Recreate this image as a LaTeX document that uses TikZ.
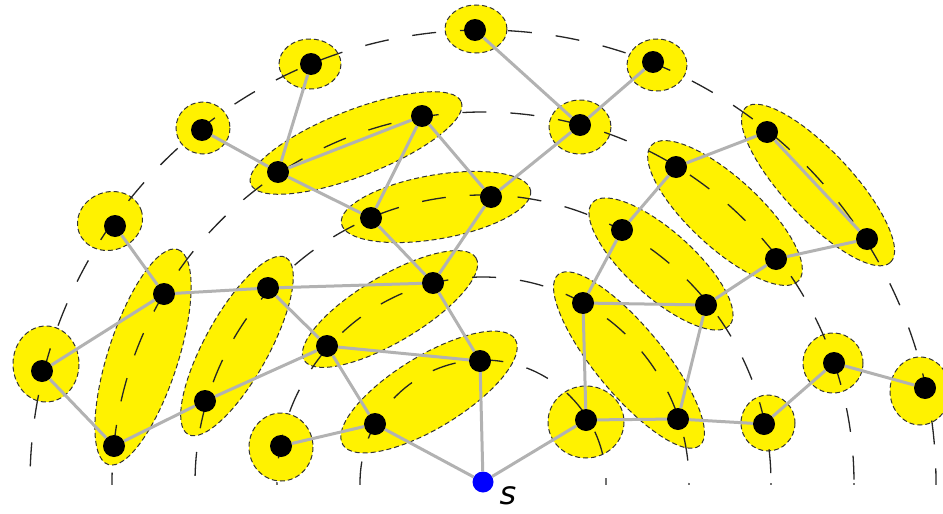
\documentclass[tikz,border=0pt]{standalone}
\usepackage{fontspec}
\newfontfamily\labelfont{DejaVu Sans}
\begin{document}
\begin{tikzpicture}[x=1pt,y=-1pt,
  blob/.style={fill=yellow, draw=black!80, line width=1pt, dash pattern=on 5pt off 3pt},
  ring/.style={draw=black!85, line width=1.3pt, dash pattern=on 24pt off 24pt},
  edge/.style={draw=black!30, line width=3pt},
  vtx/.style={circle, fill=black, inner sep=0pt, minimum size=22pt},
  src/.style={circle, fill=blue, inner sep=0pt, minimum size=21pt}]
\useasboundingbox (0,0) rectangle (943,514);
\newcommand\myblob[5]{\path[blob, rotate around={#3:(#1,#2)}] (#1,#2) ellipse [x radius=#4, y radius=#5];}
% two-node blobs
\myblob{356}{143}{21.3}{113}{33}
\myblob{436}{207}{9.9}{96}{32}
\myblob{143}{357}{72.1}{113}{35}
\myblob{237}{346}{61.1}{101}{32}
\myblob{390}{309}{30.7}{100}{33}
\myblob{429}{392}{31.4}{101}{36}
\myblob{725}{213}{-42.6}{100}{35}
\myblob{818}{185}{-46.9}{106}{34}
\myblob{661}{264}{-41.8}{92}{33}
\myblob{629}{360}{-50.4}{111}{34}
% single blobs
\myblob{476}{29}{0}{31}{24}
\myblob{310}{64}{0}{31}{25}
\myblob{657}{65}{0}{30}{26}
\myblob{203}{128}{0}{27}{26}
\myblob{580}{127}{0}{31}{27}
\myblob{110}{221}{20}{33}{29}
\myblob{46}{364}{0}{33}{38}
\myblob{281}{447}{0}{32}{34}
\myblob{586}{422}{0}{38}{36}
\myblob{768}{423}{0}{27}{28}
\myblob{833}{363}{0}{30}{30}
\myblob{920}{391}{0}{30}{34}
% rings
\begin{scope}
\clip (0,0) rectangle (943,484);
\foreach \r in {123,206,288,371,453}
  \draw[ring] (483,483) circle [radius=\r];
\end{scope}
% nodes
\node[src] (s) at (483,482) {};
\node[font=\labelfont\itshape\fontsize{32}{32}\selectfont, inner sep=0pt] (slab) at (508,496) {s};
\node[vtx] (a1) at (475,30) {};
\node[vtx] (a2) at (311,64) {};
\node[vtx] (a3) at (653,62) {};
\node[vtx] (a4) at (202,130) {};
\node[vtx] (a5) at (422,116) {};
\node[vtx] (a6) at (580,125) {};
\node[vtx] (a7) at (278,172) {};
\node[vtx] (a8) at (371,218) {};
\node[vtx] (a9) at (491,197) {};
\node[vtx] (a10) at (676,167) {};
\node[vtx] (a11) at (767,132) {};
\node[vtx] (a12) at (115,226) {};
\node[vtx] (a13) at (622,230) {};
\node[vtx] (a14) at (867,239) {};
\node[vtx] (a15) at (776,259) {};
\node[vtx] (a16) at (164,294) {};
\node[vtx] (a17) at (268,288) {};
\node[vtx] (a18) at (433,283) {};
\node[vtx] (a19) at (583,303) {};
\node[vtx] (a20) at (706,305) {};
\node[vtx] (a21) at (327,346) {};
\node[vtx] (a22) at (42,371) {};
\node[vtx] (a23) at (480,361) {};
\node[vtx] (a24) at (834,363) {};
\node[vtx] (a25) at (205,401) {};
\node[vtx] (a26) at (375,424) {};
\node[vtx] (a27) at (925,388) {};
\node[vtx] (a28) at (114,446) {};
\node[vtx] (a29) at (281,446) {};
\node[vtx] (a30) at (586,420) {};
\node[vtx] (a31) at (678,419) {};
\node[vtx] (a32) at (764,424) {};
% edges
\foreach \u/\v in {a1/a6, a3/a6, a6/a9, a2/a7, a4/a7, a7/a5, a7/a8, a5/a8, a5/a9,
  a8/a18, a9/a18, a12/a16, a16/a17, a17/a18, a17/a21, a16/a22, a22/a28, a28/a25,
  a25/a21, a21/a23, a21/a26, a18/a23, a29/a26, a26/s, a23/s, s/a30, a30/a19,
  a30/a31, a19/a20, a19/a13, a13/a10, a10/a11, a11/a14, a14/a15, a15/a20,
  a20/a31, a31/a32, a32/a24, a24/a27}
  \draw[edge] (\u) -- (\v);
\end{tikzpicture}
\end{document}
